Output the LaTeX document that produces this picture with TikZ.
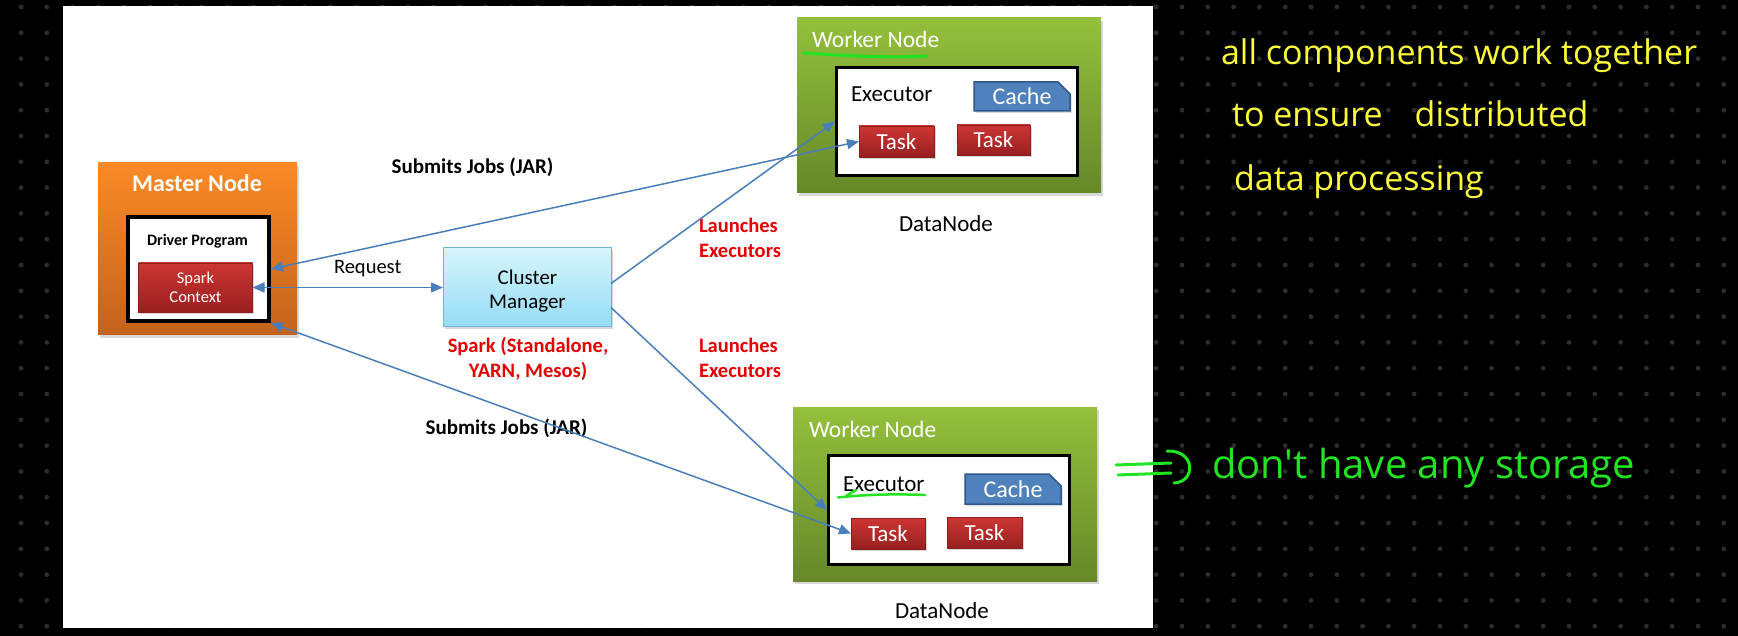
\documentclass[tikz,border=0pt]{standalone}
\usepackage{fontspec}
\setmainfont{Carlito}
\newfontfamily\handfont{Open Sans}
\usetikzlibrary{arrows.meta,shapes.misc,shadows,calc}
\definecolor{orTop}{RGB}{250,138,38}
\definecolor{orBot}{RGB}{196,98,28}
\definecolor{grTop}{RGB}{148,192,60}
\definecolor{grBot}{RGB}{102,136,42}
\definecolor{rdTop}{RGB}{204,54,52}
\definecolor{rdBot}{RGB}{152,32,32}
\definecolor{rdLine}{RGB}{140,30,30}
\definecolor{cmTop}{RGB}{215,245,252}
\definecolor{cmBot}{RGB}{148,220,244}
\definecolor{cmLine}{RGB}{110,180,212}
\definecolor{cacheFill}{RGB}{79,129,189}
\definecolor{cacheLine}{RGB}{48,88,140}
\definecolor{arrowBlue}{RGB}{74,126,187}
\definecolor{labelRed}{RGB}{228,0,0}
\definecolor{dotGray}{RGB}{44,44,44}
\definecolor{handYellow}{RGB}{252,252,58}
\definecolor{handGreen}{RGB}{34,228,34}
\begin{document}
\begin{tikzpicture}[x=1pt,y=-1pt,
  every node/.style={inner sep=0pt, outer sep=0pt},
  boxbase/.style={rectangle, inner sep=0pt, outer sep=0pt},
  bigshadow/.style={drop shadow={shadow xshift=2pt,shadow yshift=-3pt,opacity=0.3}},
  smallshadow/.style={drop shadow={shadow xshift=1.5pt,shadow yshift=-2pt,opacity=0.3}},
  masterbox/.style={boxbase, top color=orTop, bottom color=orBot, bigshadow},
  workerbox/.style={boxbase, top color=grTop, bottom color=grBot, bigshadow},
  driverbox/.style={boxbase, draw=black, line width=4pt, fill=white, outer sep=2pt},
  execbox/.style={boxbase, draw=black, line width=3pt, fill=white, outer sep=1.5pt},
  redbox/.style={boxbase, top color=rdTop, bottom color=rdBot, draw=rdLine, line width=0.6pt, text=white, smallshadow},
  taskbox/.style={redbox, font=\fontsize{23}{26}\selectfont},
  cachebox/.style={chamfered rectangle, chamfered rectangle corners=north east,
     chamfered rectangle xsep=6pt, chamfered rectangle ysep=6pt, inner sep=0pt,
     fill=cacheFill, draw=cacheLine, line width=1.5pt, text=white,
     font=\fontsize{24}{27}\selectfont, smallshadow},
  cmbox/.style={boxbase, top color=cmTop, bottom color=cmBot, draw=cmLine, line width=1pt, smallshadow},
  boldlabel/.style={font=\bfseries\fontsize{21}{25}\selectfont},
  redlabel/.style={font=\bfseries\fontsize{20.5}{25}\selectfont, text=labelRed},
  plainlabel/.style={font=\fontsize{23}{27}\selectfont},
  wtitle/.style={font=\fontsize{23.5}{27}\selectfont, text=white, anchor=base west},
  arr/.style={draw=arrowBlue, line width=1.5pt},
  tipA/.tip={Triangle[length=12pt,width=10pt]},
  both/.style={arr, tipA-tipA},
  single/.style={arr, -tipA},
  hand/.style={line width=3pt, line cap=round, line join=round},
  handY/.style={font=\handfont\fontsize{34}{40}\selectfont, text=handYellow, anchor=base west},
  handG/.style={font=\handfont\fontsize{40}{46}\selectfont, text=handGreen, anchor=base west}
]
\useasboundingbox (0,0) rectangle (1738,636);
% background with dot grid
\fill[black] (0,0) rectangle (1738,636);
\foreach \i in {0,...,67}{\foreach \j in {0,...,24}{
  \fill[dotGray] ({21+25.8*\i},{7+25.8*\j}) circle (2.4pt);}}
% white slide
\fill[white] (63,6) rectangle (1153,628);

% Master node
\node[masterbox, minimum width=199pt, minimum height=172pt] (master) at (197.5,249) {};
\node[font=\bfseries\fontsize{24}{28}\selectfont, text=white, anchor=base] (mastertitle) at (197,192) {Master Node};
\node[driverbox, minimum width=141.5pt, minimum height=104pt] (driver) at (198.25,269) {};
\node[font=\bfseries\fontsize{16}{19}\selectfont, anchor=base] (drivertitle) at (197.5,246) {Driver Program};
\node[redbox, minimum width=114pt, minimum height=49pt, font=\fontsize{16.5}{19}\selectfont, align=center] (spark) at (195.5,287.5) {Spark\\Context};

% Cluster manager
\node[cmbox, minimum width=168pt, minimum height=79pt] (cm) at (527,287.5) {};
\node[font=\fontsize{21}{24}\selectfont, align=center] (cmtext) at (527.5,291) {Cluster\\Manager};
\node[redlabel, align=center] (cmtype) at (528,359) {Spark (Standalone,\\YARN, Mesos)};

% Worker node 1
\node[workerbox, minimum width=304pt, minimum height=175pt] (worker1) at (949,105.5) {};
\node[wtitle] (w1title) at (812,48) {Worker Node};
\node[execbox, minimum width=241pt, minimum height=108pt] (ex1) at (957,121.5) {};
\node[plainlabel, anchor=base west] (ex1title) at (851,102) {Executor};
\node[cachebox, minimum width=96pt, minimum height=29pt] (cache1) at (1022,96.5) {Cache};
\node[taskbox, minimum width=75pt, minimum height=31pt] (task11) at (896.5,141.5) {Task};
\node[taskbox, minimum width=73pt, minimum height=30pt] (task12) at (993.5,140) {Task};
\node[plainlabel, anchor=base west] (dn1) at (899,232) {DataNode};

% Worker node 2
\node[workerbox, minimum width=304pt, minimum height=174pt] (worker2) at (945,494) {};
\node[wtitle] (w2title) at (809,437) {Worker Node};
\node[execbox, minimum width=241pt, minimum height=109pt] (ex2) at (949,510) {};
\node[plainlabel, anchor=base west] (ex2title) at (843,491.5) {Executor};
\node[cachebox, minimum width=96pt, minimum height=30pt] (cache2) at (1013,489) {Cache};
\node[taskbox, minimum width=74pt, minimum height=31pt] (task21) at (888,533.5) {Task};
\node[taskbox, minimum width=75pt, minimum height=31pt] (task22) at (984.5,532.5) {Task};
\node[plainlabel, anchor=base west] (dn2) at (895,618) {DataNode};

% labels
\node[boldlabel, anchor=base] (sub1) at (472.5,174) {Submits Jobs (JAR)};
\node[boldlabel, anchor=base] (sub2) at (506.5,434) {Submits Jobs (JAR)};
\node[font=\fontsize{20.5}{24}\selectfont, anchor=base west] (req) at (334,274) {Request};
\node[redlabel, align=left, anchor=west] (launch1) at (699,237.6) {Launches\\Executors};
\node[redlabel, align=left, anchor=west] (launch2) at (699,357.6) {Launches\\Executors};

% connectors
\draw[both] (driver.east) -- (task11.west);
\draw[both] (spark.east) -- (cm.west);
\draw[both] (driver.south east) -- (task21.west);
\draw[single] ($(cm.east)+(0,-4)$) -- (ex1.west);
\draw[single] ($(cm.east)+(0,20)$) -- (ex2.west);

% handwritten highlights
\draw[hand, handGreen] (803,53) .. controls (850,56) and (890,58) .. (927,56);
\draw[hand, handGreen, line width=2.5pt] (838,497.5) .. controls (870,494) and (900,494) .. (925,495);
\draw[hand, handGreen, line width=2.5pt] (846,496) -- (856,490);

% handwritten notes
\node[handY] (note1) at (1221,65) {all components work together};
\node[handY] (note2) at (1232,127) {to ensure\hspace{32pt}distributed};
\node[handY] (note3) at (1234,191) {data processing};
\draw[hand, handGreen] (1116,465) -- (1171,463);
\draw[hand, handGreen] (1118,475) -- (1171,473);
\draw[hand, handGreen] (1167,451) .. controls (1196,450) and (1196,482) .. (1174,483);
\node[handG] (note4) at (1212,478) {don't have any storage};
\end{tikzpicture}
\end{document}
